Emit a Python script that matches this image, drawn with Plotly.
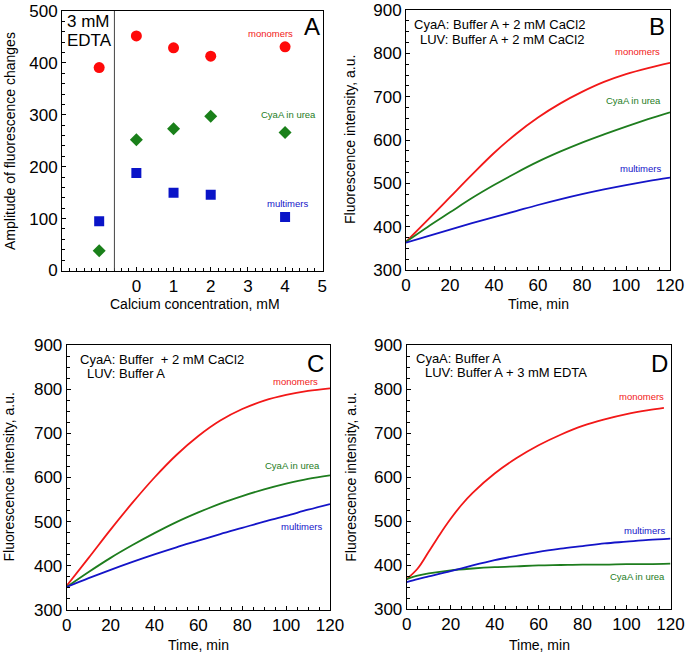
import plotly.graph_objects as go

W, H = 685, 655
FONT = "Liberation Sans, Arial, Helvetica, sans-serif"
RED = "#f21818"
GREEN = "#1e7d1e"
BLUE = "#1414c8"

# ---------------- Panel A data ----------------
a_x = [-1, 0, 1, 2, 4]
a_monomers = [391, 452, 429, 413, 431]
a_urea = [38, 252, 273, 297, 266]
a_multimers = [95, 188, 150, 146, 103]
a_ticks = [0, 1, 2, 3, 4, 5]

# ---------------- Panel B data ----------------
b_t = [0, 10, 20, 30, 40, 50, 60, 70, 80, 90, 100, 110, 120]
b_monomers = [365, 416, 468, 520, 570, 614, 652, 684, 711, 734, 752, 766, 778]
b_urea = [365, 400, 433, 466, 496, 524, 550, 573, 594, 613, 631, 648, 664]
b_multimers = [363, 378, 393, 408, 422, 436, 450, 463, 475, 486, 496, 505, 513]

# ---------------- Panel C data ----------------
c_t = [0, 10, 20, 30, 40, 50, 60, 70, 80, 90, 100, 110, 120]
c_monomers = [355, 418, 482, 543, 600, 651, 694, 729, 755, 774, 787, 796, 802]
c_urea = [352, 386, 418, 447, 474, 499, 521, 541, 558, 573, 586, 597, 605]
c_multimers = [352, 372, 391, 409, 426, 442, 457, 472, 486, 500, 513, 527, 540]

# ---------------- Panel D data ----------------
d_t_mono = [0, 5, 10, 15, 20, 25, 30, 40, 50, 60, 70, 80, 90, 100, 110, 117]
d_monomers = [368, 392, 430, 469, 505, 537, 564, 608, 643, 672, 696, 716, 731, 743, 752, 757]
d_t = [0, 5, 10, 20, 30, 40, 50, 60, 70, 80, 90, 100, 110, 120]
d_urea = [368, 376, 381, 388, 392, 395, 397, 399, 400, 401, 401, 402, 402, 403]
d_multimers = [361, 368, 374, 386, 399, 411, 421, 430, 437, 443, 449, 453, 457, 460]

time_ticks = [0, 20, 40, 60, 80, 100, 120]
fl_ticks = [300, 400, 500, 600, 700, 800, 900]


def px(x):
    return x / W


def py(y):
    return 1 - y / H


# plot-area rectangles in pixels (left, right, top, bottom)
RA = (62, 323, 11, 270.5)
RB = (406, 670, 10, 270)
RC = (66.7, 330, 345, 610)
RD = (406.7, 670.5, 345, 609)


def dom(r):
    return dict(domain=[px(r[0]), px(r[1])]), dict(domain=[py(r[3]), py(r[2])])


fig = go.Figure()

# Panel A
fig.add_trace(go.Scatter(x=a_x, y=a_monomers, mode="markers", xaxis="x", yaxis="y",
                         marker=dict(symbol="circle", size=11, color="#ff0a0a")))
fig.add_trace(go.Scatter(x=a_x, y=a_urea, mode="markers", xaxis="x", yaxis="y",
                         marker=dict(symbol="diamond", size=10, color="#1a801a")))
fig.add_trace(go.Scatter(x=a_x, y=a_multimers, mode="markers", xaxis="x", yaxis="y",
                         marker=dict(symbol="square", size=10, color="#0a14c8")))

LW = 1.8
SPL = dict(shape="spline", smoothing=1.0)
# Panel B
for t, v, c in [(b_t, b_monomers, RED), (b_t, b_urea, GREEN), (b_t, b_multimers, BLUE)]:
    fig.add_trace(go.Scatter(x=t, y=v, mode="lines", xaxis="x2", yaxis="y2",
                             line=dict(color=c, width=LW, **SPL)))
# Panel C
for t, v, c in [(c_t, c_monomers, RED), (c_t, c_urea, GREEN), (c_t, c_multimers, BLUE)]:
    fig.add_trace(go.Scatter(x=t, y=v, mode="lines", xaxis="x3", yaxis="y3",
                             line=dict(color=c, width=LW, **SPL)))
# Panel D
for t, v, c in [(d_t_mono, d_monomers, RED), (d_t, d_urea, GREEN), (d_t, d_multimers, BLUE)]:
    fig.add_trace(go.Scatter(x=t, y=v, mode="lines", xaxis="x4", yaxis="y4",
                             line=dict(color=c, width=LW, **SPL)))

axcommon = dict(showline=True, linecolor="black", linewidth=1, mirror=True,
                ticks="inside", ticklen=4, tickcolor="black", showgrid=False,
                zeroline=False, automargin=False, ticklabeloverflow="allow",
                tickfont=dict(family=FONT, size=17, color="black"))

xa, ya = dom(RA)
xb, yb = dom(RB)
xc, yc = dom(RC)
xd, yd = dom(RD)

layout = dict(
    width=W, height=H, margin=dict(l=0, r=0, t=0, b=0, autoexpand=False),
    paper_bgcolor="white", plot_bgcolor="white", showlegend=False,
    font=dict(family=FONT, color="black"),
    xaxis=dict(**axcommon, **xa, anchor="y", range=[-2, 5.02], tickvals=a_ticks,
               minor=dict(dtick=0.2, tick0=0, ticks="inside", ticklen=3, tickcolor="black")),
    yaxis=dict(**axcommon, **ya, anchor="x", range=[0, 500], dtick=100,
               minor=dict(dtick=20, ticks="inside", ticklen=3, tickcolor="black")),
)
for i, (xx, yy) in zip([2, 3, 4], [(xb, yb), (xc, yc), (xd, yd)]):
    layout[f"xaxis{i}"] = dict(**axcommon, **xx, anchor=f"y{i}", range=[0, 120], tickvals=time_ticks,
                               minor=dict(dtick=5, ticks="inside", ticklen=3, tickcolor="black"))
    layout[f"yaxis{i}"] = dict(**axcommon, **yy, anchor=f"x{i}", range=[300, 900], tickvals=fl_ticks,
                               minor=dict(dtick=25, ticks="inside", ticklen=3, tickcolor="black"))
fig.update_layout(**layout)

# divider in panel A
fig.add_shape(type="line", xref="x", yref="paper", x0=-0.59, x1=-0.59,
              y0=py(RA[3]), y1=py(RA[2]), line=dict(color="#444444", width=1))

ann = []


def text(x, y, s, size, color="black", xanchor="center", angle=0):
    ann.append(dict(x=px(x), y=py(y), xref="paper", yref="paper", text=s, showarrow=False,
                    xanchor=xanchor, yanchor="middle", textangle=angle,
                    font=dict(family=FONT, size=size, color=color)))


# axis titles
text(10, 141, "Amplitude of fluorescence changes", 14, angle=-90)
text(195, 304, "Calcium concentration, mM", 14)
text(350, 140, "Fluorescence intensity, a.u.", 14, angle=-90)
text(538, 304, "Time, min", 14)
text(8.5, 477, "Fluorescence intensity, a.u.", 14, angle=-90)
text(198, 645, "Time, min", 14)
text(350.7, 477, "Fluorescence intensity, a.u.", 14, angle=-90)
text(539.5, 645, "Time, min", 14)

# panel letters
text(312, 26, "A", 24)
text(656.7, 27, "B", 24)
text(315, 363, "C", 24)
text(659.3, 363, "D", 24)

# panel A box text
text(65, 22, "3 mM", 17, xanchor="left")
text(65, 41, "EDTA", 17, xanchor="left")

# condition texts
text(411.5, 25, "CyaA: Buffer A + 2 mM CaCl2", 13, xanchor="left")
text(418, 39, "LUV: Buffer A + 2 mM CaCl2", 13, xanchor="left")
text(78, 359.5, "CyaA: Buffer&nbsp;&nbsp;+ 2 mM CaCl2", 13, xanchor="left")
text(85, 373.5, "LUV: Buffer A", 13, xanchor="left")
text(414, 358, "CyaA: Buffer A", 13, xanchor="left")
text(423, 372, "LUV: Buffer A + 3 mM EDTA", 13, xanchor="left")

# series labels
SL = 9.5
text(270.7, 33.3, "monomers", SL, RED)
text(288, 114.3, "CyaA in urea", SL, GREEN)
text(287, 203.3, "multimers", SL, BLUE)

text(637.7, 51.7, "monomers", SL, RED)
text(633.3, 100, "CyaA in urea", SL, GREEN)
text(640, 168.3, "multimers", SL, BLUE)

text(295, 381, "monomers", SL, RED)
text(292.7, 465, "CyaA in urea", SL, GREEN)
text(301.7, 526.7, "multimers", SL, BLUE)

text(641.7, 396, "monomers", SL, RED)
text(644, 530.7, "multimers", SL, BLUE)
text(637.7, 576, "CyaA in urea", SL, GREEN)

fig.update_layout(annotations=ann)
fig.write_html("out.html", config={"displayModeBar": False},
               post_script="document.body.style.margin='0';document.body.style.padding='0';")
